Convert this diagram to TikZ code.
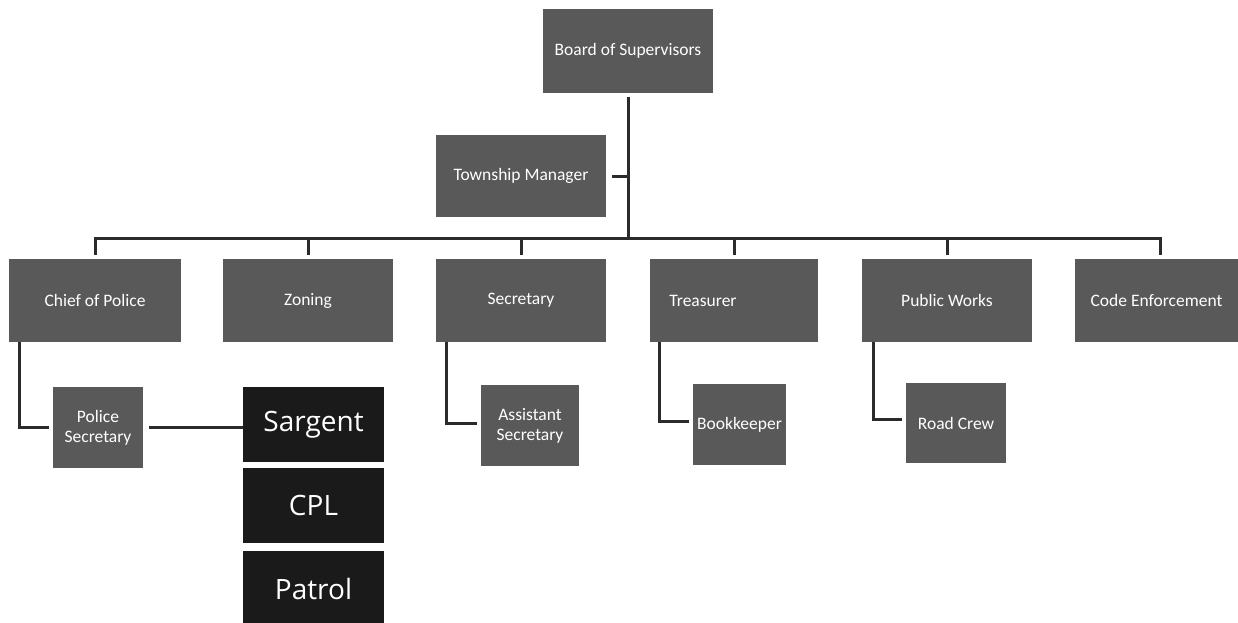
\documentclass[tikz,border=0pt]{standalone}
\usepackage{fontspec}
\setmainfont{Carlito}
\newfontfamily\rankfont{Open Sans}
\definecolor{boxgray}{HTML}{595959}
\definecolor{boxblack}{HTML}{1A1A1A}
\definecolor{linecol}{HTML}{2B2B2B}
\begin{document}
\begin{tikzpicture}[x=1pt,y=-1pt,
  orgbox/.style={fill=boxgray, text=white, inner sep=0pt, outer sep=4pt,
    font=\fontsize{17.5}{20}\selectfont, align=center},
  rankbox/.style={fill=boxblack, text=white, inner sep=0pt, outer sep=0pt,
    minimum width=141pt, minimum height=75pt, font=\rankfont\fontsize{28}{30}\selectfont},
  link/.style={draw=linecol, line width=3pt}]
\useasboundingbox (0,0) rectangle (1238,623);

\node[orgbox, minimum width=170pt, minimum height=84pt] (board) at (628,51) {Board of Supervisors};
\node[orgbox, minimum width=170pt, minimum height=82pt] (tm) at (521,176) {Township Manager};

\node[orgbox, minimum width=172pt, minimum height=83pt] (chief) at (95,300.5) {Chief of Police};
\node[orgbox, minimum width=170pt, minimum height=83pt] (zoning) at (308,300.5) {Zoning};
\node[orgbox, minimum width=170pt, minimum height=83pt] (sec) at (521,300.5) {Secretary};
\node[orgbox, minimum width=168pt, minimum height=83pt] (treas) at (734,300.5) {\hspace*{-62pt}Treasurer};
\node[orgbox, minimum width=170pt, minimum height=83pt] (pw) at (947,300.5) {Public Works};
\node[orgbox, minimum width=163pt, minimum height=83pt] (code) at (1156.5,300.5) {Code Enforcement};

\node[orgbox, minimum width=90pt, minimum height=81pt] (psec) at (98,427.5) {Police\\Secretary};
\node[orgbox, minimum width=98pt, minimum height=81pt] (asec) at (530,425.5) {Assistant\\Secretary};
\node[orgbox, minimum width=93pt, minimum height=81pt] (book) at (739.5,424.5) {Bookkeeper};
\node[orgbox, minimum width=100pt, minimum height=80pt] (road) at (956,423) {Road Crew};

\node[rankbox] (sarg) at (313.5,424.5) {Sargent};
\node[rankbox] (cpl) at (313.5,505.5) {CPL};
\node[rankbox] (patrol) at (313.5,588.5) {Patrol};

\coordinate (bus) at (628,238);

% trunk and manager
\draw[link] (board.south) -- (board.south |- bus);
\draw[link] (tm.east) ++(2,0) -- (tm.east -| board.south);

% bus with drops
\draw[link] (chief.north) -- (chief.north |- bus) -- ([xshift=4pt]code.north |- bus) -- ([xshift=4pt]code.north);
\draw[link] (zoning.north) -- (zoning.north |- bus);
\draw[link] (sec.north) -- (sec.north |- bus);
\draw[link] (treas.north) -- (treas.north |- bus);
\draw[link] (pw.north) -- (pw.north |- bus);

% sub links
\draw[link] ([xshift=14pt,yshift=4pt]chief.south west) |- (psec.west);
\draw[link] ([xshift=2pt]psec.east) -- (psec.east -| sarg.west);
\draw[link] ([xshift=14pt,yshift=4pt]sec.south west) |- ([yshift=2pt]asec.west);
\draw[link] ([xshift=13pt,yshift=4pt]treas.south west) |- ([yshift=3pt]book.west);
\draw[link] ([xshift=15pt,yshift=4pt]pw.south west) |- ([yshift=4pt]road.west);
\end{tikzpicture}
\end{document}
